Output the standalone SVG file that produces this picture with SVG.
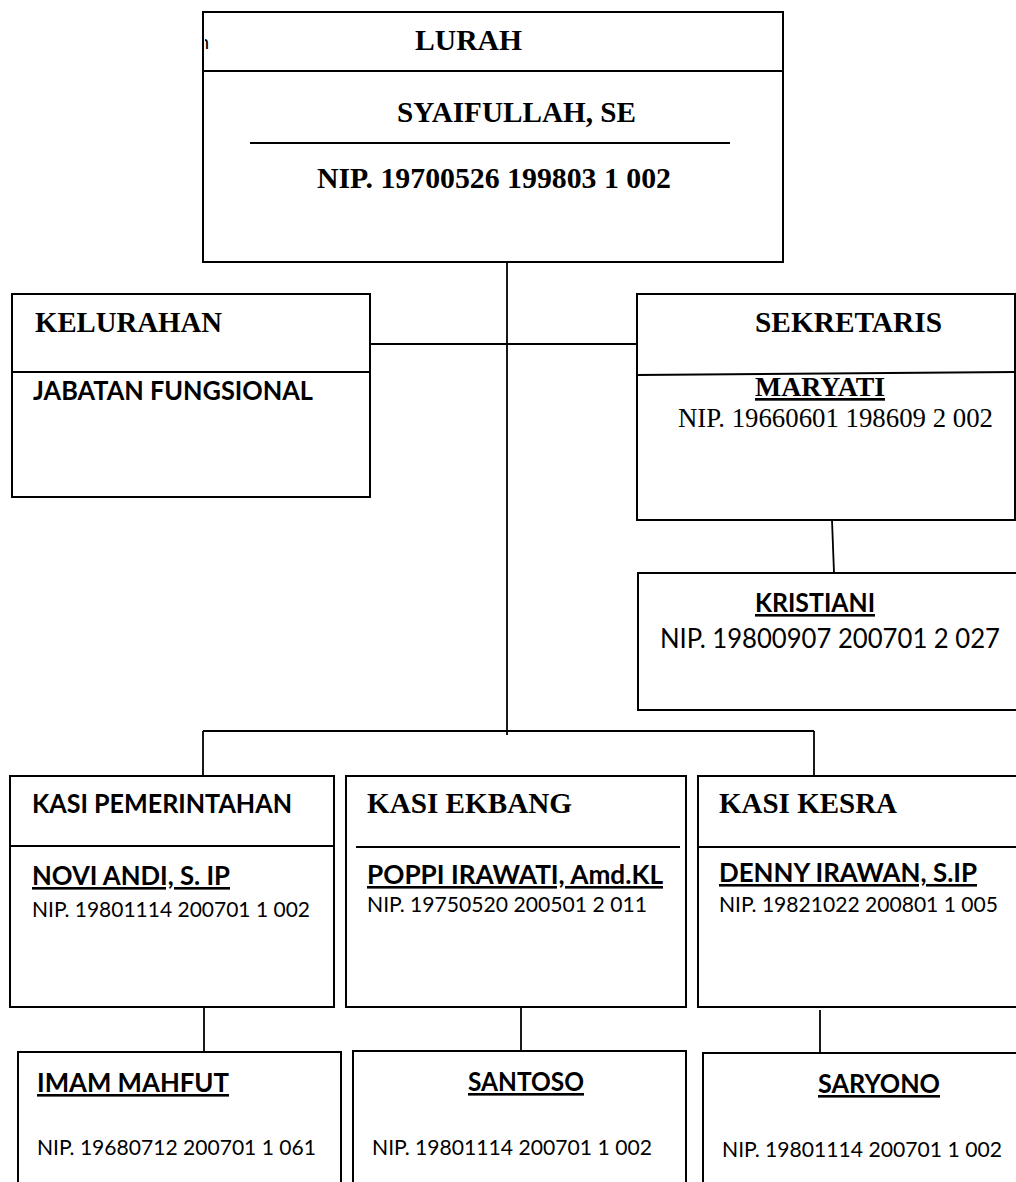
<svg xmlns="http://www.w3.org/2000/svg" width="1016" height="1182" viewBox="0 0 1016 1182">
<style>
.box{fill:#fff;stroke:#000;stroke-width:2}
.ln{stroke:#000;stroke-width:1.8;fill:none}
.tb{font-family:"Liberation Serif","Times New Roman",serif;font-weight:bold;font-size:30px;fill:#000}
.tr{font-family:"Liberation Serif","Times New Roman",serif;font-size:27px;fill:#000}
.cb{font-family:Lato,"Open Sans",sans-serif;font-weight:bold;font-size:26px;fill:#000}
.cr{font-family:Lato,"Open Sans",sans-serif;font-size:22px;fill:#000}
.u{text-decoration:underline}
</style>
<defs>
<clipPath id="clipLurah"><rect x="205" y="12" width="578" height="250"/></clipPath>
</defs>
<g id="connectors">
<line class="ln" x1="507" y1="262" x2="507" y2="735"/>
<line class="ln" x1="370" y1="344" x2="637" y2="344"/>
<line class="ln" x1="203" y1="731" x2="814" y2="731"/>
<line class="ln" x1="203" y1="731" x2="203" y2="776"/>
<line class="ln" x1="814" y1="731" x2="814" y2="776"/>
<line class="ln" x1="832" y1="520" x2="834" y2="573"/>
<line class="ln" x1="204" y1="1007" x2="204" y2="1052"/>
<line class="ln" x1="521" y1="1008" x2="521" y2="1051"/>
<line class="ln" x1="820" y1="1010" x2="820" y2="1053"/>
</g>
<g id="lurah">
<rect class="box" x="203" y="12" width="580" height="250"/>
<line class="ln" x1="203" y1="71" x2="783" y2="71"/>
<text x="198" y="49" clip-path="url(#clipLurah)" style="font-family:Lato,sans-serif;font-size:20px">n</text>
<text class="tb" x="415" y="50" textLength="107" lengthAdjust="spacingAndGlyphs">LURAH</text>
<text class="tb" x="397" y="122" textLength="239" lengthAdjust="spacingAndGlyphs">SYAIFULLAH, SE</text>
<line class="ln" x1="250" y1="143" x2="730" y2="143"/>
<text class="tb" x="317" y="188" textLength="354" lengthAdjust="spacingAndGlyphs">NIP. 19700526 199803 1 002</text>
</g>
<g id="kelurahan">
<rect class="box" x="12" y="294" width="358" height="203"/>
<line class="ln" x1="12" y1="372" x2="370" y2="372"/>
<text class="tb" x="35" y="332" textLength="187" lengthAdjust="spacingAndGlyphs">KELURAHAN</text>
<text class="cb" x="33" y="400" textLength="280" lengthAdjust="spacingAndGlyphs">JABATAN FUNGSIONAL</text>
</g>
<g id="sekretaris">
<rect class="box" x="637" y="294" width="378" height="226"/>
<line class="ln" x1="637" y1="375" x2="1015" y2="372"/>
<text class="tb" x="755" y="332" textLength="187" lengthAdjust="spacingAndGlyphs">SEKRETARIS</text>
<text class="tb u" x="755" y="396" textLength="130" lengthAdjust="spacingAndGlyphs" style="font-size:27px">MARYATI</text>
<text class="tr" x="678" y="427" textLength="315" lengthAdjust="spacingAndGlyphs">NIP. 19660601 198609 2 002</text>
</g>
<g id="kristiani">
<rect class="box" x="638" y="573" width="390" height="137"/>
<text class="cb u" x="755" y="612" textLength="120" lengthAdjust="spacingAndGlyphs">KRISTIANI</text>
<text class="cr" x="660" y="648" textLength="340" lengthAdjust="spacingAndGlyphs" style="font-size:27px">NIP. 19800907 200701 2 027</text>
</g>
<g id="kasi-pemerintahan">
<rect class="box" x="10" y="776" width="324" height="231"/>
<line class="ln" x1="10" y1="846" x2="334" y2="846"/>
<text class="cb" x="32" y="813" textLength="260" lengthAdjust="spacingAndGlyphs">KASI PEMERINTAHAN</text>
<text class="cb u" x="32" y="885" textLength="198" lengthAdjust="spacingAndGlyphs">NOVI ANDI, S. IP</text>
<text class="cr" x="32" y="917" textLength="278" lengthAdjust="spacingAndGlyphs">NIP. 19801114 200701 1 002</text>
</g>
<g id="kasi-ekbang">
<rect class="box" x="346" y="776" width="340" height="231"/>
<line class="ln" x1="356" y1="847" x2="680" y2="847"/>
<text class="tb" x="367" y="813" textLength="205" lengthAdjust="spacingAndGlyphs">KASI EKBANG</text>
<text class="cb u" x="367" y="884" textLength="296" lengthAdjust="spacingAndGlyphs">POPPI IRAWATI, Amd.KL</text>
<text class="cr" x="367" y="912" textLength="280" lengthAdjust="spacingAndGlyphs">NIP. 19750520 200501 2 011</text>
</g>
<g id="kasi-kesra">
<rect class="box" x="698" y="776" width="330" height="231"/>
<line class="ln" x1="698" y1="847" x2="1016" y2="847"/>
<text class="tb" x="719" y="813" textLength="178" lengthAdjust="spacingAndGlyphs">KASI KESRA</text>
<text class="cb u" x="719" y="882" textLength="258" lengthAdjust="spacingAndGlyphs">DENNY IRAWAN, S.IP</text>
<text class="cr" x="719" y="912" textLength="279" lengthAdjust="spacingAndGlyphs">NIP. 19821022 200801 1 005</text>
</g>
<g id="imam-mahfut">
<rect class="box" x="18" y="1052" width="323" height="150"/>
<text class="cb u" x="37" y="1092" textLength="192" lengthAdjust="spacingAndGlyphs">IMAM MAHFUT</text>
<text class="cr" x="37" y="1155" textLength="279" lengthAdjust="spacingAndGlyphs">NIP. 19680712 200701 1 061</text>
</g>
<g id="santoso">
<rect class="box" x="353" y="1051" width="333" height="150"/>
<text class="cb u" x="468" y="1091" textLength="116" lengthAdjust="spacingAndGlyphs">SANTOSO</text>
<text class="cr" x="372" y="1155" textLength="280" lengthAdjust="spacingAndGlyphs">NIP. 19801114 200701 1 002</text>
</g>
<g id="saryono">
<rect class="box" x="703" y="1053" width="325" height="150"/>
<text class="cb u" x="818" y="1093" textLength="122" lengthAdjust="spacingAndGlyphs">SARYONO</text>
<text class="cr" x="722" y="1157" textLength="280" lengthAdjust="spacingAndGlyphs">NIP. 19801114 200701 1 002</text>
</g>
</svg>
